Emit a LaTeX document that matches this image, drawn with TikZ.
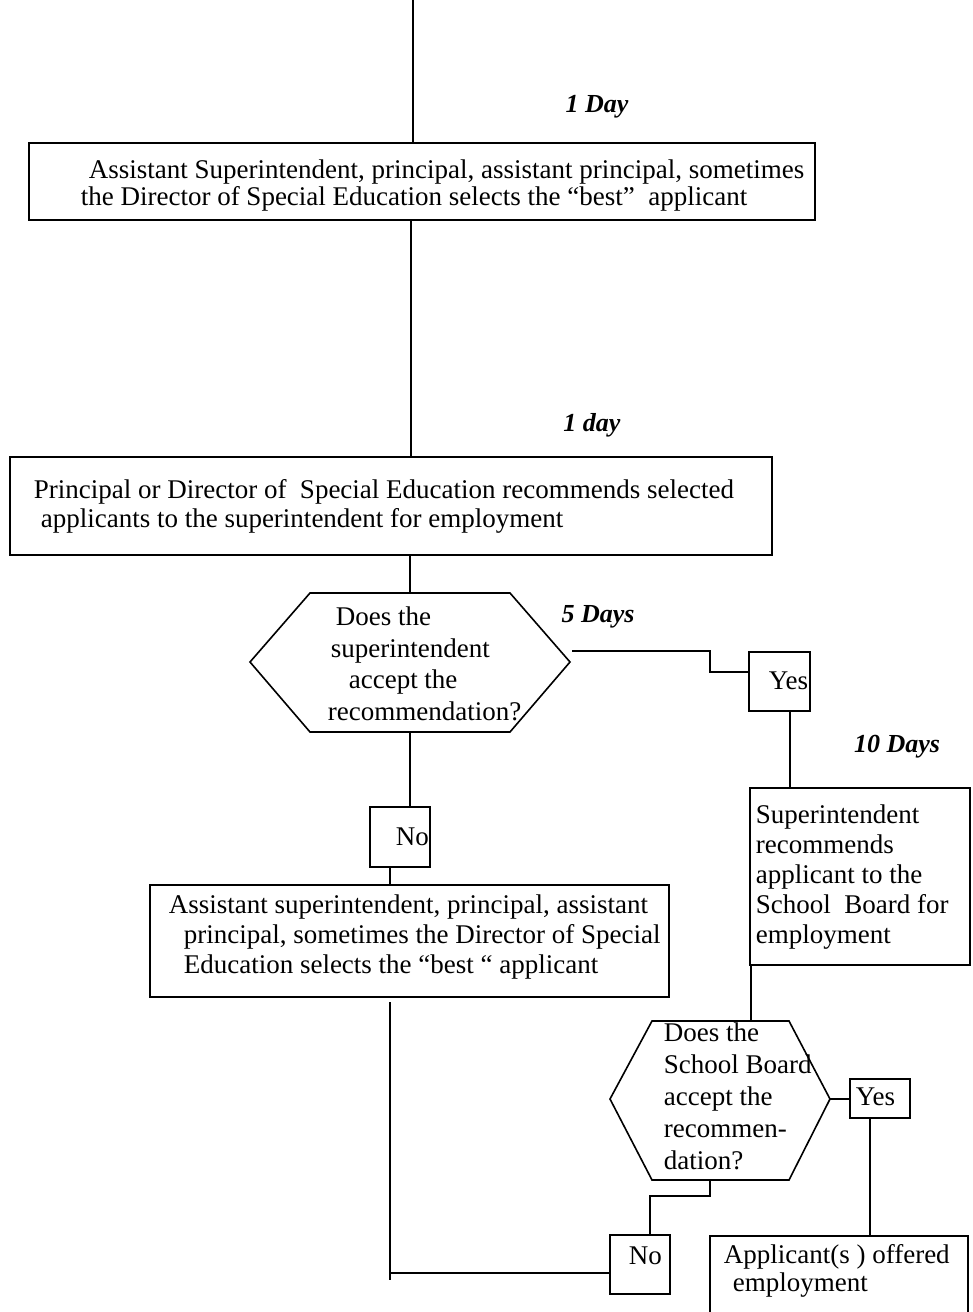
\documentclass[tikz,border=0pt]{standalone}
\usepackage{fontspec}
\setmainfont{Liberation Serif}
\begin{document}
\begin{tikzpicture}[x=1pt,y=-1pt, line width=1.6pt,
  box/.style={draw, rectangle, inner sep=0pt, outer sep=0pt},
  txt/.style={anchor=north west, align=left, inner sep=0pt},
  lbl/.style={inner sep=0pt, font=\fontsize{26}{30}\selectfont\bfseries\itshape}]
\useasboundingbox (0,0) rectangle (972,1312);

% ---------- boxes ----------
\node[box, minimum width=786pt, minimum height=77pt] (b1) at (422,181.5) {};
\node[box, minimum width=762pt, minimum height=98pt] (b2) at (391,506) {};
\node[box, minimum width=60pt, minimum height=60pt] (n1) at (400,837) {};
\node[box, minimum width=519pt, minimum height=112pt] (b4) at (409.5,941) {};
\node[box, minimum width=61pt, minimum height=59pt] (y1) at (779.5,681.5) {};
\node[box, minimum width=220pt, minimum height=177pt] (b3) at (860,876.5) {};
\node[box, minimum width=60pt, minimum height=39pt] (y2) at (880,1098.5) {};
\node[box, minimum width=60pt, minimum height=59pt] (n2) at (640,1264.5) {};
\node[inner sep=0pt, outer sep=0pt, minimum width=258pt, minimum height=76pt] (fin) at (839,1274) {};
\draw (fin.south west) -- (fin.north west) -- (fin.north east) -- (fin.south east);

% ---------- hexagons ----------
\coordinate (h1t) at (410,593);
\coordinate (h1b) at (410,732);
\draw (310,593) -- (510,593) -- (570,662) -- (510,732) -- (310,732) -- (250,662) -- cycle;
\coordinate (h2t) at (751,1021);
\coordinate (h2r) at (830,1099);
\coordinate (h2b) at (710,1180);
\draw (652,1021) -- (789,1021) -- (h2r) -- (789,1180) -- (652,1180) -- (610,1099) -- cycle;

% ---------- texts ----------
\node[txt, font=\fontsize{27}{27}\selectfont] (t1) at (80,159) {\hspace*{8pt}Assistant Superintendent, principal, assistant principal, sometimes\\the Director of Special Education selects the “best”\ \ applicant};
\node[txt, font=\fontsize{27}{29}\selectfont] (t2) at (33,479) {Principal or Director of\ \ Special Education recommends selected\\\hspace*{7pt}applicants to the superintendent for employment};
\node[txt, font=\fontsize{27}{31.7}\selectfont] (t3) at (327,606) {\hspace*{8pt}Does the\\\hspace*{3pt}superintendent\\\hspace*{21pt}accept the\\recommendation?};
\node[txt, font=\fontsize{27}{30}\selectfont] (t4) at (395,827) {No};
\node[txt, font=\fontsize{27}{30}\selectfont] (t5) at (168,894) {Assistant superintendent, principal, assistant\\\hspace*{15pt}principal, sometimes the Director of Special\\\hspace*{15pt}Education selects the “best “ applicant};
\node[txt, font=\fontsize{27}{30}\selectfont] (t6) at (768,671) {Yes};
\node[txt, font=\fontsize{27}{30}\selectfont] (t7) at (755,804) {Superintendent\\recommends\\applicant to the\\School\ \ Board for\\employment};
\node[txt, font=\fontsize{27}{32}\selectfont] (t8) at (663,1022) {Does the\\School Board\\accept the\\recommen-\\dation?};
\node[txt, font=\fontsize{27}{30}\selectfont] (t9) at (855,1087) {Yes};
\node[txt, font=\fontsize{27}{30}\selectfont] (t10) at (628,1246) {No};
\node[txt, font=\fontsize{27}{28}\selectfont] (t11) at (723,1244) {Applicant(s ) offered\\\hspace*{9pt}employment};

% ---------- duration labels ----------
\node[lbl] (d1) at (597,107) {1 Day};
\node[lbl] (d2) at (592,425) {1 day};
\node[lbl] (d3) at (598,617) {5 Days};
\node[lbl] (d4) at (897,747) {10 Days};

% ---------- connectors ----------
\coordinate (top) at (413,0);
\draw (top) -- (top |- b1.north);
\coordinate (c1) at (411,0);
\draw (c1 |- b1.south) -- (c1 |- b2.north);
\draw (h1t |- b2.south) -- (h1t);
\coordinate (h1r) at (572,651);
\draw (h1r) -- (710,651) -- (710,672) -- (y1.west |- 0,672);
\coordinate (c2) at (790,0);
\draw (c2 |- y1.south) -- (c2 |- b3.north);
\draw (h2t |- b3.south) -- (h2t);
\draw (h2r) -- (h2r -| y2.west);
\coordinate (c3) at (870,0);
\draw (c3 |- y2.south) -- (c3 |- fin.north);
\draw (h2b) -- (710,1196) -- (650,1196) -- (650,0 |- n2.north);
\draw (h1b) -- (h1b |- n1.north);
\coordinate (c4) at (390,0);
\draw (c4 |- n1.south) -- (c4 |- b4.north);
\coordinate (jn) at (390,1273);
\draw (390,1002) -- (390,1280);
\draw (jn -| n2.west) -- (jn);
\end{tikzpicture}
\end{document}
